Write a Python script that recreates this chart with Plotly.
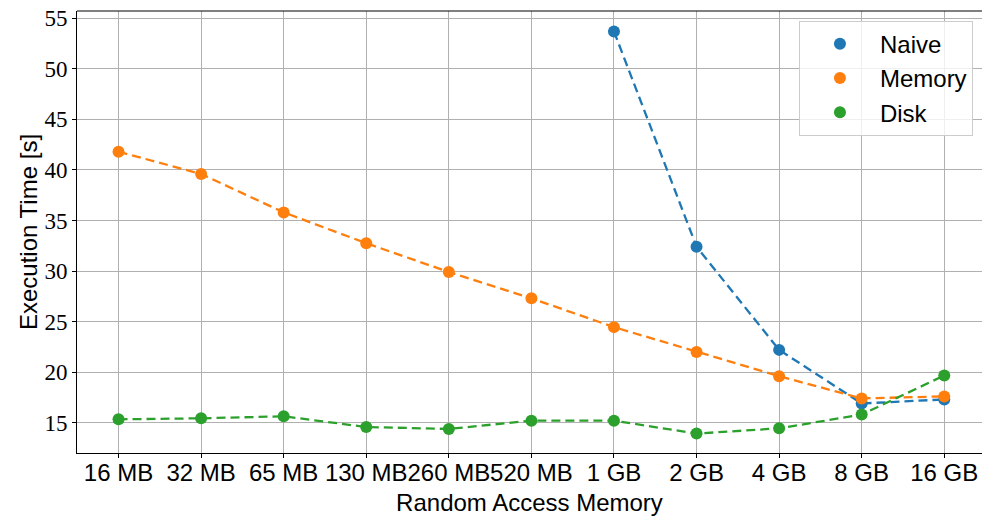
import plotly.graph_objects as go

# Memory sizes on the x axis
ram_sizes = ["16 MB", "32 MB", "65 MB", "130 MB", "260 MB", "520 MB",
             "1 GB", "2 GB", "4 GB", "8 GB", "16 GB"]

# Execution times in seconds (None where a run was not possible)
naive_times = [None, None, None, None, None, None, 53.7, 32.4, 22.2, 16.9, 17.3]
memory_times = [41.8, 39.6, 35.8, 32.75, 29.9, 27.3, 24.45, 22.0, 19.6, 17.4, 17.6]
disk_times = [15.33, 15.43, 15.63, 14.57, 14.38, 15.2, 15.2, 13.92, 14.44, 15.8, 19.67]

series = [
    ("Naive", naive_times, "#1f77b4"),
    ("Memory", memory_times, "#ff7f0e"),
    ("Disk", disk_times, "#2ca02c"),
]

x_pos = list(range(len(ram_sizes)))

fig = go.Figure()
for name, values, color in series:
    fig.add_trace(go.Scatter(
        x=x_pos, y=values, mode="lines+markers", name=name,
        line=dict(color=color, width=2.3, dash="9px,5px"),
        marker=dict(color=color, size=12),
        showlegend=False, connectgaps=False,
    ))
# Dot-only legend entries
for name, values, color in series:
    fig.add_trace(go.Scatter(
        x=[None], y=[None], mode="markers", name=name,
        marker=dict(color=color, size=12), showlegend=True,
    ))

sans = "Liberation Sans, Arial, sans-serif"
serif = "Liberation Serif, DejaVu Serif, serif"

fig.update_layout(
    width=982, height=521,
    margin=dict(l=77, r=0, t=11, b=68),
    plot_bgcolor="white", paper_bgcolor="white",
    font=dict(family=sans, size=24, color="black"),
    legend=dict(
        x=0.99, y=0.978, xanchor="right", yanchor="top",
        bgcolor="rgba(255,255,255,0.8)", bordercolor="#cccccc", borderwidth=1,
        font=dict(family=sans, size=24, color="black"),
        itemwidth=70,
    ),
)
fig.update_xaxes(
    range=[-0.503, 10.457],
    tickmode="array", tickvals=x_pos, ticktext=ram_sizes, tickangle=0,
    tickfont=dict(family=sans, size=24, color="black"),
    ticklabelstandoff=-6,
    showgrid=True, gridcolor="#b0b0b0", gridwidth=1,
    showline=True, linecolor="black", linewidth=1, mirror=False,
    ticks="outside", ticklen=4, tickcolor="black",
    zeroline=False,
    title=dict(text="Random Access Memory", font=dict(family=sans, size=24), standoff=9),
)
fig.update_yaxes(
    range=[12.0, 55.72],
    tickmode="array", tickvals=[15, 20, 25, 30, 35, 40, 45, 50, 55],
    tickfont=dict(family=serif, size=23, color="black"),
    showgrid=True, gridcolor="#b0b0b0", gridwidth=1,
    showline=True, linecolor="black", linewidth=1, mirror=False,
    ticks="outside", ticklen=4, tickcolor="black",
    zeroline=False,
    title=dict(text="Execution Time [s]", font=dict(family=sans, size=24), standoff=0),
)
# Top spine
fig.add_shape(type="line", xref="paper", yref="paper", x0=0, x1=1, y0=1, y1=1,
              line=dict(color="black", width=1))

fig.write_html("out.html")
